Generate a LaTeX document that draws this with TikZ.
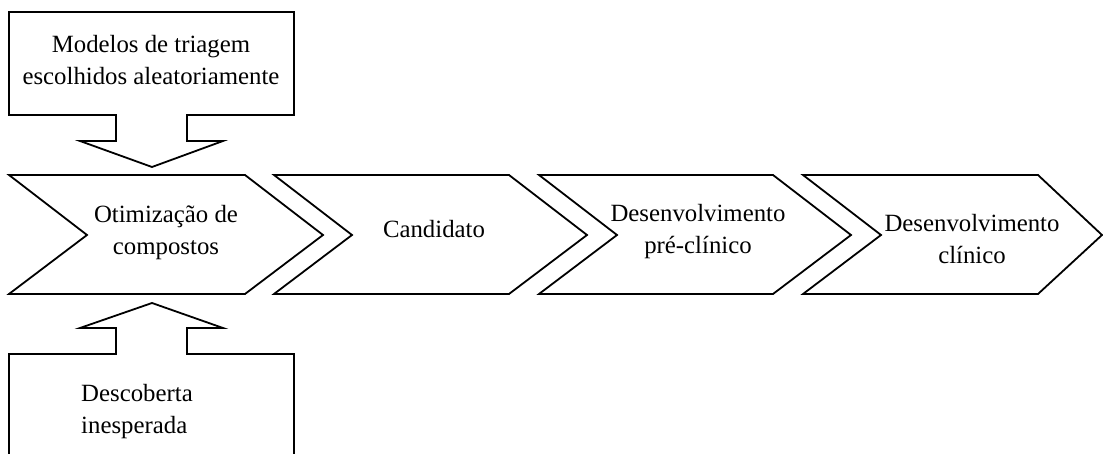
\documentclass[tikz,border=0pt]{standalone}
\usepackage{fontspec}
\setmainfont{Liberation Serif}
\begin{document}
\begin{tikzpicture}[x=1pt,y=-1pt]
        \tikzset{block/.style = {draw=black, line width=1.8pt, line join=miter}};
        \tikzset{txt/.style = {font=\fontsize{24.8}{32}\selectfont, align=center, inner sep=0pt}};
        \useasboundingbox (0,0) rectangle (1103,454);
        \clip (0,0) rectangle (1103,454);
        % box with arrow down
        \draw[block] (9,12) -- (294,12) -- (294,115) -- (187,115) -- (187,141)
        -- (223,141) -- (152,167) -- (80,141) -- (116,141) -- (116,115) -- (9,115) -- cycle;
        \node[txt] (a) at (151,60) {Modelos de triagem\\escolhidos aleatoriamente};
        % chevrons
        \draw[block] (9,175) -- (245,175) -- (323,235) -- (245,294) -- (9,294) -- (87,235) -- cycle;
        \node[txt] (b) at (166,233) {Otimização de\\compostos};
        \draw[block] (274,175) -- (509,175) -- (587,235) -- (509,294) -- (274,294) -- (352,235) -- cycle;
        \node[txt] (c) at (434,229.5) {Candidato};
        \draw[block] (539,175) -- (773,175) -- (851,235) -- (773,294) -- (539,294) -- (617,235) -- cycle;
        \node[txt] (d) at (698,232) {Desenvolvimento\\pré-clínico};
        \draw[block] (803,175) -- (1038,175) -- (1102,235) -- (1038,294) -- (803,294) -- (881,235) -- cycle;
        \node[txt] (e) at (972,239.5) {Desenvolvimento\\clínico};
        % box with arrow up
        \draw[block] (152,303) -- (223,328) -- (187,328) -- (187,354) -- (294,354) -- (294,470)
        -- (9,470) -- (9,354) -- (116,354) -- (116,328) -- (80,328) -- cycle;
        \node[txt, align=left] (f) at (137,412) {Descoberta\\inesperada};
\end{tikzpicture}
\end{document}
